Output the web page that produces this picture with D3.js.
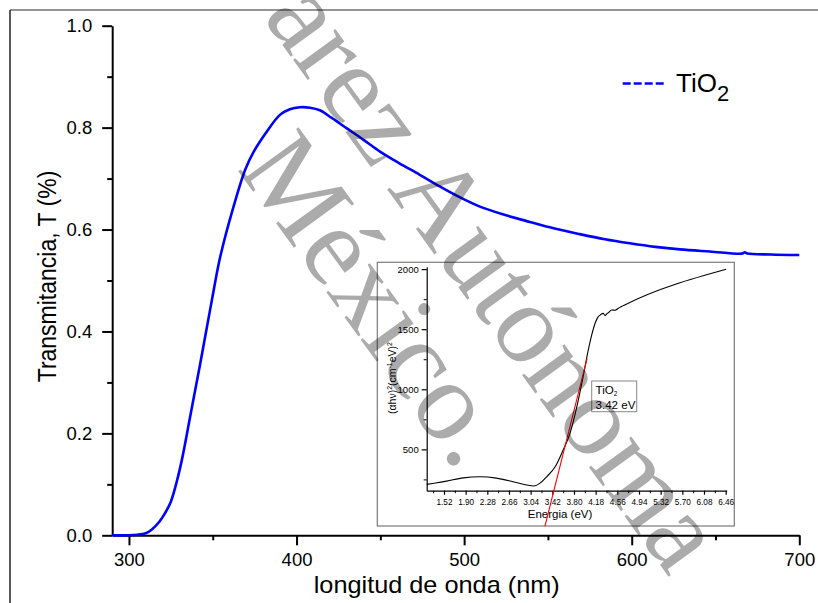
<!DOCTYPE html>
<html>
<head>
<meta charset="utf-8">
<script src="https://cdn.jsdelivr.net/npm/d3@7"></script>
<style>
  body { margin: 0; background: #fff; }
  svg { display: block; font-family: Arial, "Liberation Sans", sans-serif; }
</style>
</head>
<body>
<svg id="chart" width="818" height="603"></svg>
<script>
// main spectrum: wavelength (nm) vs transmittance
const wavelength = [290, 300, 305, 310, 313.5, 318, 321.8, 325, 328.5, 331.7, 336.7, 342.6, 349.5, 354.5, 362.4, 369.3, 374.3, 382.2, 390.1, 396, 402, 408, 413.9, 421, 429.8, 440, 449.8, 461.4, 473.3, 485.8, 497, 509.4, 524, 539.2, 554, 569, 584, 598.9, 614, 628.7, 646.6, 666, 667.5, 669, 683, 700];
const transmittance = [0, 0, 0.001, 0.004, 0.011, 0.026, 0.045, 0.066, 0.105, 0.15, 0.236, 0.338, 0.462, 0.547, 0.645, 0.717, 0.752, 0.792, 0.825, 0.836, 0.84, 0.839, 0.834, 0.819, 0.799, 0.776, 0.753, 0.73, 0.708, 0.684, 0.664, 0.645, 0.629, 0.615, 0.602, 0.591, 0.581, 0.573, 0.566, 0.561, 0.557, 0.553, 0.5555, 0.553, 0.551, 0.55];
const mainXTicks = [300, 400, 500, 600, 700];
const mainXMinor = [350, 450, 550, 650];
const mainYTicks = [0, 0.2, 0.4, 0.6, 0.8, 1.0];
const mainYMinor = [0.1, 0.3, 0.5, 0.7, 0.9];

// inset: Tauc plot
const energy = [1.217, 1.4, 1.567, 1.86, 2.15, 2.44, 2.73, 2.97, 3.09, 3.2, 3.32, 3.47, 3.61, 3.73, 3.85, 3.96, 4.05, 4.11, 4.18, 4.22, 4.26, 4.31, 4.35, 4.37, 4.41, 4.46, 4.52, 4.58, 4.64, 4.69, 6.47];
const tauc = [209, 222, 236, 263, 272, 261, 231, 203, 195, 217, 272, 355, 494, 633, 855, 1105, 1326, 1451, 1562, 1600, 1618, 1632, 1612, 1625, 1640, 1660, 1658, 1674, 1690, 1702, 1998];
const fitEnergy = [3.29, 4.03];
const fitValue = [-140, 1257];
const insetXTicks = [1.52, 1.90, 2.28, 2.66, 3.04, 3.42, 3.80, 4.18, 4.56, 4.94, 5.32, 5.70, 6.08, 6.46];
const insetXMinor = [1.33, 1.71, 2.09, 2.47, 2.85, 3.23, 3.61, 3.99, 4.37, 4.75, 5.13, 5.51, 5.89, 6.27];
const insetYTicks = [500, 1000, 1500, 2000];
const insetYMinor = [250, 750, 1250, 1750];

const svg = d3.select('#chart');
svg.append('rect').attr('width', 818).attr('height', 603).attr('fill', '#fff');

// page frame
svg.append('line')
  .attr('x1', 10).attr('x2', 818).attr('y1', 10).attr('y2', 10)
  .attr('stroke', '#707070').attr('stroke-width', 1.5);
svg.append('line')
  .attr('x1', 10).attr('x2', 10).attr('y1', 10).attr('y2', 603)
  .attr('stroke', '#222').attr('stroke-width', 1.5);

// main scales
const x = d3.scaleLinear().domain([290, 700]).range([112.2, 799.3]);
const y = d3.scaleLinear().domain([0, 1]).range([535.3, 25.7]);

const styleAxis = (g, w) => {
  g.selectAll('path, line').attr('stroke', '#000').attr('stroke-width', w);
  g.selectAll('text').attr('fill', '#000');
};

// x axis
svg.append('g')
  .attr('transform', `translate(0,${y(0)})`)
  .call(d3.axisBottom(x).tickValues(mainXMinor).tickSize(5).tickSizeOuter(0).tickFormat(''))
  .call(g => g.select('.domain').remove())
  .call(g => styleAxis(g, 2));
svg.append('g')
  .attr('transform', `translate(0,${y(0)})`)
  .call(d3.axisBottom(x).tickValues(mainXTicks).tickSize(10).tickSizeOuter(0).tickPadding(7.5).tickFormat(d3.format('d')))
  .call(g => g.selectAll('text').attr('font-size', 18.5).attr('font-family', 'Arial, "Liberation Sans", sans-serif'))
  .call(g => styleAxis(g, 2));

// y axis
svg.append('g')
  .attr('transform', `translate(${x(290)},0)`)
  .call(d3.axisLeft(y).tickValues(mainYMinor).tickSize(5).tickSizeOuter(0).tickFormat(''))
  .call(g => g.select('.domain').remove())
  .call(g => styleAxis(g, 2));
svg.append('g')
  .attr('transform', `translate(${x(290)},0)`)
  .call(d3.axisLeft(y).tickValues(mainYTicks).tickSize(10).tickSizeOuter(0).tickPadding(10).tickFormat(d3.format('.1f')))
  .call(g => g.selectAll('text').attr('font-size', 18.5).attr('font-family', 'Arial, "Liberation Sans", sans-serif'))
  .call(g => styleAxis(g, 2));

// axis titles
svg.append('text')
  .attr('transform', 'translate(436.7,593) scale(1.1,1)')
  .attr('text-anchor', 'middle')
  .attr('font-size', 23)
  .text('longitud de onda (nm)');
svg.append('text')
  .attr('transform', 'translate(55.5,276.5) scale(1.1,1) rotate(-90)')
  .attr('text-anchor', 'middle')
  .attr('font-size', 23)
  .text('Transmitancia, T (%)');

// transmittance curve
const mainLine = d3.line()
  .x((d, i) => x(wavelength[i]))
  .y(d => y(d))
  .curve(d3.curveCatmullRom.alpha(0.5));
svg.append('path')
  .datum(transmittance)
  .attr('d', mainLine)
  .attr('fill', 'none')
  .attr('stroke', '#0000ff')
  .attr('stroke-width', 2.6);

// legend
svg.append('line')
  .attr('x1', 622.7).attr('x2', 665).attr('y1', 83.5).attr('y2', 83.5)
  .attr('stroke', '#0000ff').attr('stroke-width', 2.6)
  .attr('stroke-dasharray', '8,3');
const leg = svg.append('text')
  .attr('x', 676).attr('y', 92)
  .attr('font-size', 26);
leg.append('tspan').text('TiO');
leg.append('tspan').attr('font-size', 22).attr('dy', 9).text('2');

// ---- inset ----
const inset = svg.append('g');
inset.append('rect')
  .attr('x', 377.3).attr('y', 262.3).attr('width', 357).attr('height', 263.7)
  .attr('fill', '#fff').attr('stroke', '#7a7a7a').attr('stroke-width', 1.2);

const ix = d3.scaleLinear().domain([1.217, 6.478]).range([426.7, 726.7]);
const iy = d3.scaleLinear().domain([156, 2020]).range([490.7, 266.7]);

inset.append('g')
  .attr('transform', `translate(0,${iy(156)})`)
  .call(d3.axisBottom(ix).tickValues(insetXMinor).tickSize(2.5).tickSizeOuter(0).tickFormat(''))
  .call(g => g.select('.domain').remove())
  .call(g => styleAxis(g, 1));
inset.append('g')
  .attr('transform', `translate(0,${iy(156)})`)
  .call(d3.axisBottom(ix).tickValues(insetXTicks).tickSize(4).tickSizeOuter(0).tickPadding(3.5).tickFormat(d3.format('.2f')))
  .call(g => g.selectAll('text').attr('font-size', 9.8).attr('transform', 'scale(0.84,1)').attr('font-family', 'Arial, "Liberation Sans", sans-serif'))
  .call(g => styleAxis(g, 1.2));

inset.append('g')
  .attr('transform', `translate(${ix(1.217)},0)`)
  .call(d3.axisLeft(iy).tickValues(insetYMinor).tickSize(3).tickSizeOuter(0).tickFormat(''))
  .call(g => g.select('.domain').remove())
  .call(g => styleAxis(g, 1));
inset.append('g')
  .attr('transform', `translate(${ix(1.217)},0)`)
  .call(d3.axisLeft(iy).tickValues(insetYTicks).tickSize(5).tickSizeOuter(0).tickPadding(3).tickFormat(d3.format('d')))
  .call(g => g.selectAll('text').attr('font-size', 9.5).attr('font-family', 'Arial, "Liberation Sans", sans-serif'))
  .call(g => styleAxis(g, 1.2));

inset.append('text')
  .attr('x', 560).attr('y', 518)
  .attr('text-anchor', 'middle')
  .attr('font-size', 11.5)
  .text('Energia (eV)');

const iyl = inset.append('text')
  .attr('transform', 'translate(396,378) rotate(-90)')
  .attr('text-anchor', 'middle')
  .attr('font-size', 10.5);
iyl.append('tspan').text('(αhν)');
iyl.append('tspan').attr('font-size', 7).attr('dy', -4).text('2');
iyl.append('tspan').attr('dy', 4).text('(cm');
iyl.append('tspan').attr('font-size', 7).attr('dy', -4).text('-1');
iyl.append('tspan').attr('dy', 4).text('eV)');
iyl.append('tspan').attr('font-size', 7).attr('dy', -4).text('2');

const insetLine = d3.line()
  .x((d, i) => ix(energy[i]))
  .y(d => iy(d))
  .curve(d3.curveMonotoneX);
inset.append('path')
  .datum(tauc)
  .attr('d', insetLine)
  .attr('fill', 'none')
  .attr('stroke', '#000')
  .attr('stroke-width', 1.1);

inset.append('path')
  .datum(fitValue)
  .attr('d', d3.line().x((d, i) => ix(fitEnergy[i])).y(d => iy(d)))
  .attr('fill', 'none')
  .attr('stroke', '#ff0000')
  .attr('stroke-width', 1.1);

// band gap note
inset.append('rect')
  .attr('x', 591.7).attr('y', 381).attr('width', 45).attr('height', 30.7)
  .attr('fill', '#fff').attr('stroke', '#888').attr('stroke-width', 1);
const note = inset.append('text')
  .attr('x', 595.5).attr('y', 393.5)
  .attr('font-size', 11.6);
note.append('tspan').text('TiO');
note.append('tspan').attr('font-size', 6.5).attr('dy', 2).text('2');
inset.append('text')
  .attr('x', 595.5).attr('y', 409)
  .attr('font-size', 11.6)
  .text('3.42 eV');

// watermark
const mark = svg.append('g')
  .attr('transform', 'translate(262,17.1) rotate(54)')
  .attr('font-family', '"Liberation Serif", "Times New Roman", serif')
  .attr('font-size', 114)
  .attr('fill', '#000')
  .attr('fill-opacity', 0.33);
mark.append('text').attr('x', 0).attr('y', 0).text('arez Autónoma');
mark.append('text').attr('x', 107.5).attr('y', 109.8).text('México.');
</script>
</body>
</html>
